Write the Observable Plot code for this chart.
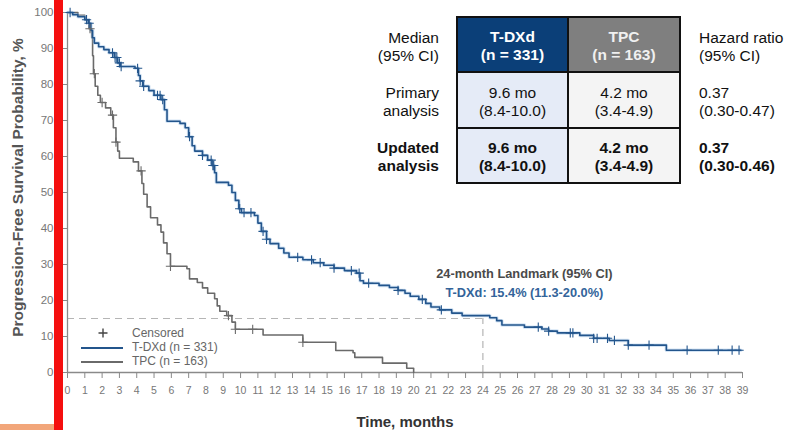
<!DOCTYPE html>
<html>
<head>
<meta charset="utf-8">
<script src="https://cdn.jsdelivr.net/npm/d3@7"></script>
<script src="https://cdn.jsdelivr.net/npm/@observablehq/plot@0.6"></script>
<style>
  body { margin: 0; background: #fff; }
  #wrap { position: relative; width: 790px; height: 430px; overflow: hidden; background: #fff; font-family: "Liberation Sans", Arial, sans-serif; }
  #wrap svg { position: absolute; left: 0; top: 0; }
  .lbl { position: absolute; font-size: 15.5px; line-height: 18px; color: #111; }
  table.tb { position: absolute; left: 456px; top: 16px; border-collapse: collapse; font-size: 15.5px; line-height: 18px; }
  table.tb td { border: 2.5px solid #111; text-align: center; vertical-align: middle; padding: 0; padding-top: 3px; color: #111; }
  .bar { position: absolute; }
</style>
</head>
<body>
<div id="wrap"></div>
<script>
// ---- data ----
const tdxdTime = [0,0.3,0.6,1.0,1.2,1.35,1.45,1.55,1.8,2.1,2.4,2.7,2.9,3.05,3.9,4.1,4.2,4.35,4.7,5.0,5.4,5.6,5.75,6.5,6.8,7.0,7.2,7.35,7.8,8.1,8.35,8.5,8.6,9.3,9.5,9.7,9.9,10.05,10.8,11.0,11.2,11.5,11.7,12.2,12.5,12.8,13.6,14.2,14.8,15.4,16.0,16.7,16.9,17.1,18.0,18.6,19.1,19.5,19.8,20.3,20.7,21.0,21.5,22.2,22.8,24.4,24.8,25.1,26.4,27.4,27.8,28.3,29.6,30.4,31.3,32.4,34.6,38.9];
const tdxdSurv = [100,99.4,98.8,98,97,95,93,91.5,90.5,89.7,88.8,87.5,86,85,84.5,82.5,81,79.5,78.3,77,75.8,73,69.8,69.2,68,65.5,63,61.5,60.3,59,57.5,55.5,52.8,52,50,47.8,45.5,44.4,43.6,41.5,39.2,37,35.8,34.5,33.2,32,31.3,30.5,29.8,29,28.3,27.6,25.5,24.8,24.2,23.6,22.8,22,21.2,20.3,19.2,18.2,17.4,16.5,15.8,15.2,14.4,13.2,12.6,12.1,11.5,11.0,10.3,9.5,8.9,7.6,6.2,6.2];
const tpcTime = [0,0.6,1.0,1.25,1.4,1.45,1.5,1.6,1.75,1.9,2.2,2.5,2.65,2.8,2.9,3.0,3.8,4.1,4.3,4.4,4.6,4.8,5.2,5.4,5.55,5.75,5.95,6.9,7.05,7.5,7.8,8.1,8.5,8.65,8.8,9.2,9.5,9.7,11.3,13.6,15.5,16.5,16.6,18.2,19.6,20.0];
const tpcSurv = [100,99.2,98,95.5,93,88,83,79.5,77,75,73.5,71.5,68,64,61.5,59.5,58.5,56,52.5,49.5,46,43,41,39,36,33,29.5,28.8,26,25,23.5,22,20.5,18.5,17,15.8,14,12,10.4,8.4,6.1,5.5,4.2,2.6,1.2,0];
const tdxdCensor = [0.15,1.1,1.25,2.6,2.75,2.85,3.0,3.1,4.05,4.2,4.4,5.2,5.35,5.5,7.05,7.8,8.3,8.4,8.45,9.95,10.2,10.6,11.3,11.5,13.3,14.1,14.6,15.4,16.4,16.85,17.4,19.1,20.5,21.6,27.2,27.8,29.05,29.2,30.4,30.6,31.2,31.6,32.4,33.6,35.8,37.6,38.4,38.8];
const tpcCensor = [1.3,1.55,2.0,2.6,2.8,4.25,5.95,9.3,9.7,10.7,13.6];
const xTicks = d3.range(0, 40);
const yTicks = d3.range(0, 101, 10);
const landmarkMonth = 24;
const landmarkValue = 15;
const annot1 = "24-month Landmark (95% CI)";
const annot2 = "T-DXd: 15.4% (11.3-20.0%)";
const seriesNames = ["T-DXd (n = 331)", "TPC (n = 163)"];
const tableHead = [["T-DXd", "(n = 331)"], ["TPC", "(n = 163)"]];
const rowLabels = [["Median", "(95% CI)"], ["Primary", "analysis"], ["Updated", "analysis"]];
const tdxdMedian = [["9.6 mo", "(8.4-10.0)"], ["9.6 mo", "(8.4-10.0)"]];
const tpcMedian = [["4.2 mo", "(3.4-4.9)"], ["4.2 mo", "(3.4-4.9)"]];
const hazard = [["Hazard ratio", "(95% CI)"], ["0.37", "(0.30-0.47)"], ["0.37", "(0.30-0.46)"]];

const BLUE = "#23558c";
const GRAY = "#6a6a6a";

const tdxd = tdxdTime.map((t, i) => ({t, s: tdxdSurv[i]}));
const tpc = tpcTime.map((t, i) => ({t, s: tpcSurv[i]}));
function survAt(times, surv, t) {
  let s = surv[0];
  for (let i = 0; i < times.length; i++) if (times[i] <= t) s = surv[i];
  return s;
}
const cT = tdxdCensor.map(t => ({t, s: survAt(tdxdTime, tdxdSurv, t)}));
const cP = tpcCensor.map(t => ({t, s: survAt(tpcTime, tpcSurv, t)}));

const chart = Plot.plot({
  width: 790,
  height: 430,
  marginLeft: 67,
  marginRight: 48,
  marginTop: 12,
  marginBottom: 58,
  style: {fontFamily: "Liberation Sans, Arial, sans-serif", background: "transparent"},
  x: {domain: [0, 39]},
  y: {domain: [0, 100]},
  marks: [
    Plot.ruleY([landmarkValue], {x1: 0, x2: landmarkMonth, stroke: "#b5b5b5", strokeWidth: 1.2, strokeDasharray: "7,5"}),
    Plot.ruleX([landmarkMonth], {y1: 0, y2: landmarkValue, stroke: "#b5b5b5", strokeWidth: 1.2, strokeDasharray: "7,5"}),
    Plot.ruleX([0], {stroke: "#8a8a8a", strokeWidth: 1.3}),
    Plot.ruleY([0], {stroke: "#8a8a8a", strokeWidth: 1.3}),
    Plot.axisX({ticks: xTicks, tickSize: 6, tickPadding: 8, fontSize: 10.5, color: "#777", stroke: "#8a8a8a", label: null}),
    Plot.axisY({ticks: yTicks, tickSize: 5, tickPadding: 9, fontSize: 11.5, color: "#777", stroke: "#8a8a8a", label: null}),
    Plot.line(tpc, {x: "t", y: "s", curve: "step-after", stroke: GRAY, strokeWidth: 1.6}),
    Plot.line(tdxd, {x: "t", y: "s", curve: "step-after", stroke: "#9fc3e6", strokeWidth: 3.5, strokeOpacity: 0.45}),
    Plot.line(tdxd, {x: "t", y: "s", curve: "step-after", stroke: BLUE, strokeWidth: 1.6}),
    Plot.dot(cP, {x: "t", y: "s", symbol: "plus", r: 3.1, stroke: GRAY, strokeWidth: 1.1}),
    Plot.dot(cT, {x: "t", y: "s", symbol: "plus", r: 3.1, stroke: BLUE, strokeWidth: 1.1}),
    Plot.text([annot1], {x: 26.4, y: 27.3, text: d => d, fontSize: 12.8, fontWeight: "bold", fill: "#4a4a4a"}),
    Plot.text([annot2], {x: 26.4, y: 22.1, text: d => d, fontSize: 12.8, fontWeight: "bold", fill: "#33649a"}),
    Plot.text(["Time, months"], {frameAnchor: "bottom", dy: 54, text: d => d, fontSize: 15, fontWeight: "bold", fill: "#333"}),
    Plot.text(["Progression-Free Survival Probability, %"], {frameAnchor: "left", textAnchor: "middle", dx: -49, dy: -5, rotate: -90, text: d => d, fontSize: 15.5, fontWeight: "bold", fill: "#555"})
  ]
});
const wrap = document.getElementById("wrap");
wrap.appendChild(chart);

// legend (inside plot, bottom-left)
const legSvg = d3.create("svg").attr("width", 180).attr("height", 50)
  .style("position", "absolute").style("left", "75px").style("top", "325px");
legSvg.append("path").attr("d", "M28,3.5v9M23.5,8h9").attr("stroke", "#444").attr("stroke-width", 1.4);
legSvg.append("line").attr("x1", 6).attr("x2", 48).attr("y1", 23).attr("y2", 23).attr("stroke", BLUE).attr("stroke-width", 1.8);
legSvg.append("line").attr("x1", 6).attr("x2", 48).attr("y1", 37).attr("y2", 37).attr("stroke", GRAY).attr("stroke-width", 1.8);
const legTexts = ["Censored", ...seriesNames];
legTexts.forEach((t, i) => {
  legSvg.append("text").attr("x", 57).attr("y", 12 + i * 14).attr("font-size", 12)
    .attr("font-family", "Liberation Sans, Arial, sans-serif").attr("fill", "#666").text(t);
});
wrap.appendChild(legSvg.node());

// table
const tb = document.createElement("table");
tb.className = "tb";
const rows = [
  [tableHead[0], tableHead[1]],
  [tdxdMedian[0], tpcMedian[0]],
  [tdxdMedian[1], tpcMedian[1]]
];
const heights = [55, 56, 55];
rows.forEach((r, ri) => {
  const tr = document.createElement("tr");
  r.forEach((c, ci) => {
    const td = document.createElement("td");
    td.style.width = (ci === 0 ? 109 : 110) + "px";
    td.style.height = (heights[ri] - 5) + "px";
    td.innerHTML = c[0] + "<br>" + c[1];
    if (ri === 0) {
      td.style.background = ci === 0 ? "#0b3f78" : "#7f7f7f";
      td.style.color = ci === 0 ? "#fff" : "#f0f0f0";
      td.style.fontWeight = "bold";
    } else {
      td.style.background = ci === 0 ? "#e5ebf7" : "#f4f4f4";
      if (ri === 2) td.style.fontWeight = "bold";
    }
    tr.appendChild(td);
  });
  tb.appendChild(tr);
});
wrap.appendChild(tb);

const rowTops = [29, 84, 139];
rowLabels.forEach((l, i) => {
  const d = document.createElement("div");
  d.className = "lbl";
  d.style.right = (790 - 439) + "px";
  d.style.top = rowTops[i] + "px";
  d.style.textAlign = "right";
  if (i === 2) d.style.fontWeight = "bold";
  d.innerHTML = l[0] + "<br>" + l[1];
  wrap.appendChild(d);
});
hazard.forEach((l, i) => {
  const d = document.createElement("div");
  d.className = "lbl";
  d.style.left = "699px";
  d.style.top = rowTops[i] + "px";
  d.style.whiteSpace = "nowrap";
  if (i === 2) d.style.fontWeight = "bold";
  d.innerHTML = l[0] + "<br>" + l[1];
  wrap.appendChild(d);
});

// decorative bars seen in the reference
const red = document.createElement("div");
red.className = "bar";
Object.assign(red.style, {left: "54px", top: "0px", width: "9px", height: "430px", background: "#f50f0f"});
wrap.appendChild(red);
const org = document.createElement("div");
org.className = "bar";
Object.assign(org.style, {left: "0px", top: "424px", width: "54px", height: "6px", background: "#f2a67a"});
wrap.appendChild(org);
</script>
</body>
</html>
